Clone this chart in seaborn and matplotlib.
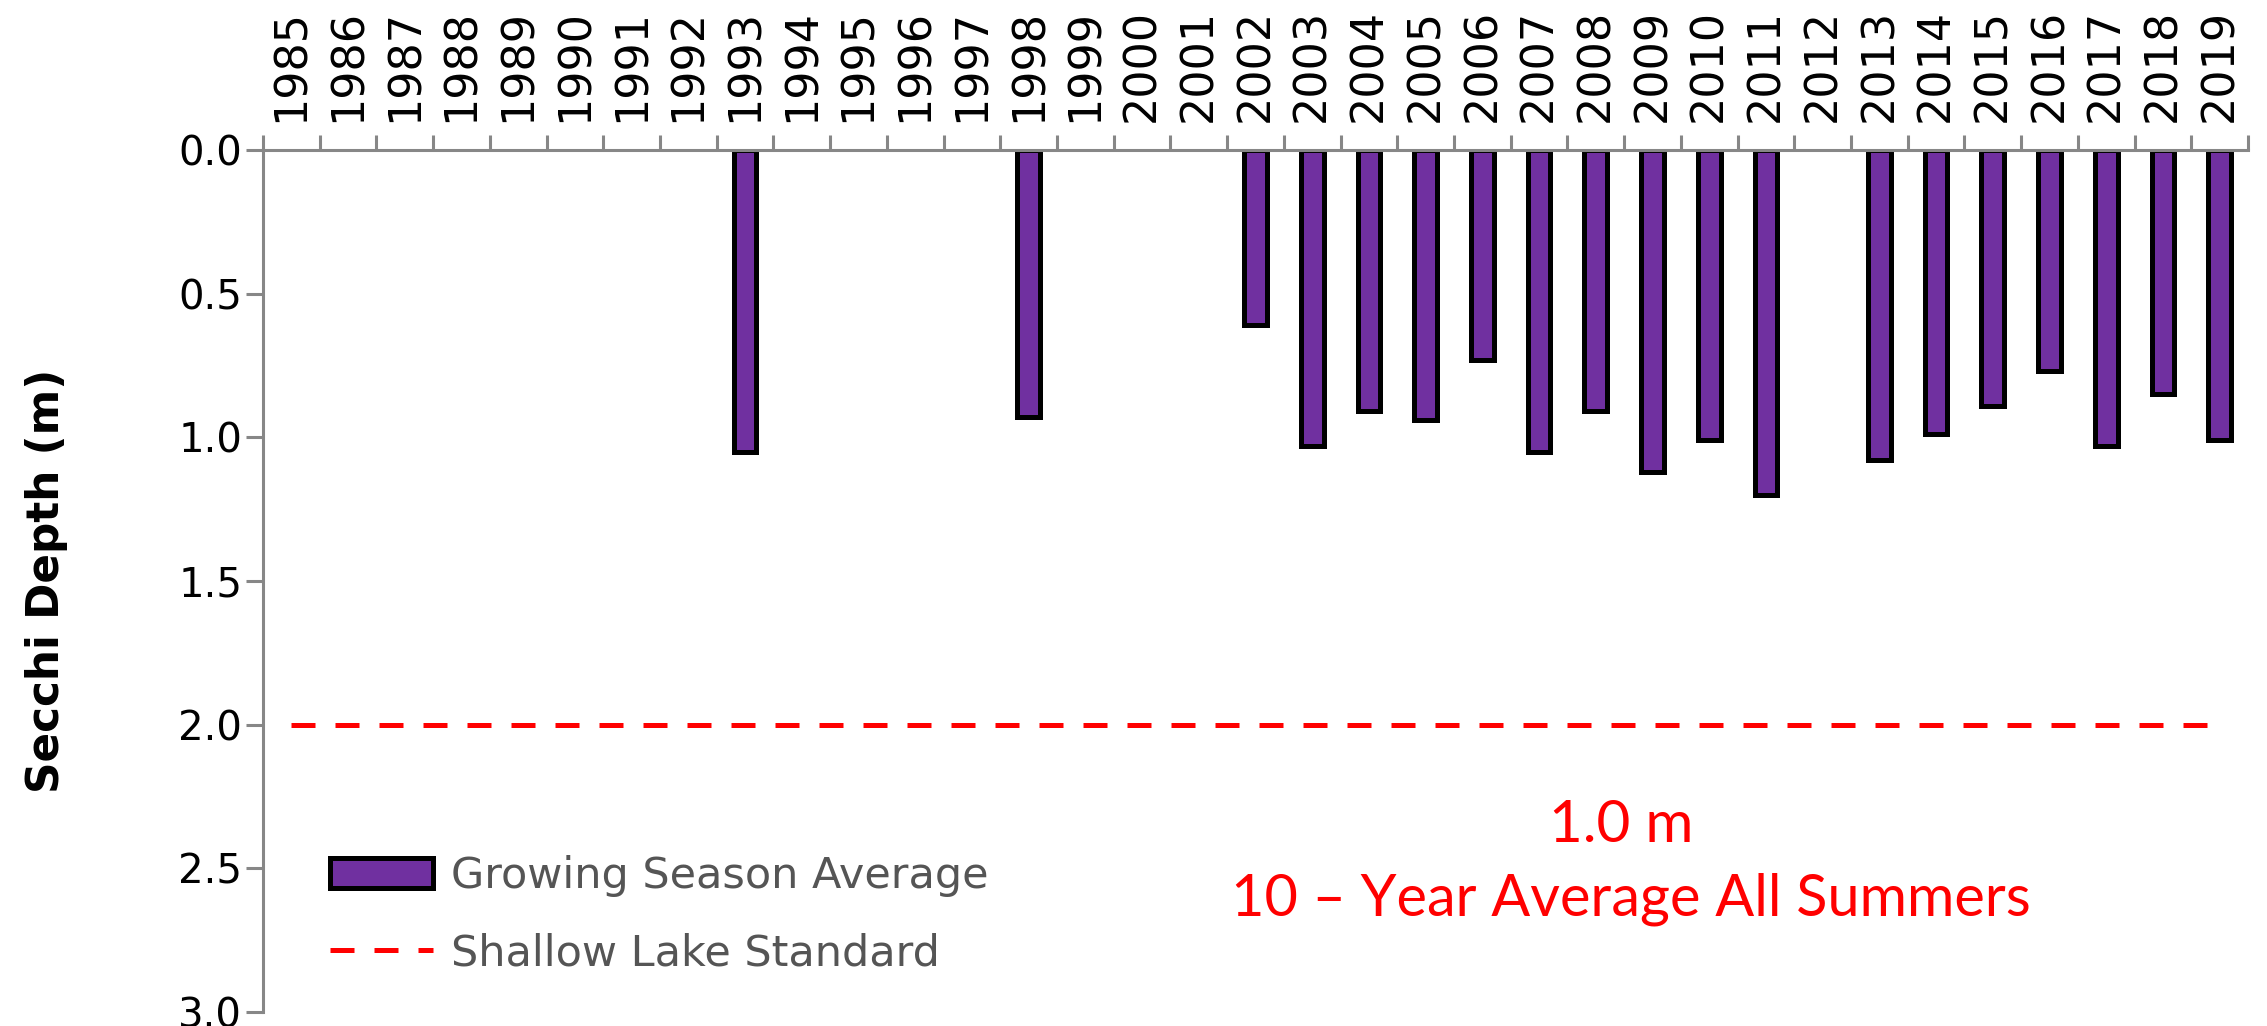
import numpy as np
import pandas as pd
import matplotlib
matplotlib.use("Agg")
import matplotlib.pyplot as plt
import seaborn as sns
from matplotlib.patches import Patch
from matplotlib.lines import Line2D
from matplotlib.ticker import FixedLocator, FormatStrFormatter

# ---- data -------------------------------------------------------------
all_years = list(range(1985, 2020))
sample_years = [1993, 1998, 2002, 2003, 2004, 2005, 2006, 2007, 2008, 2009,
                2010, 2011, 2013, 2014, 2015, 2016, 2017, 2018, 2019]
secchi_m = [1.05, 0.93, 0.61, 1.03, 0.91, 0.94, 0.73, 1.05, 0.91, 1.12,
            1.01, 1.20, 1.08, 0.99, 0.89, 0.77, 1.03, 0.85, 1.01]
standard_m = 2.0
y_ticks = [0.0, 0.5, 1.0, 1.5, 2.0, 2.5, 3.0]
series_label = "Growing Season Average"
standard_label = "Shallow Lake Standard"
note_lines = ["1.0 m", "10 \u2013 Year Average All Summers"]

year_labels = [str(y) for y in all_years]
lookup = dict(zip(sample_years, secchi_m))
df = pd.DataFrame({
    "year": year_labels,
    "depth": [lookup.get(y, np.nan) for y in all_years],
})

# ---- style ------------------------------------------------------------
sns.set_style("white")
plt.rcParams["font.family"] = ["DejaVu Sans"]

PURPLE = "#7030A0"
GRAY = "#878787"
W, H = 2267, 1026

fig = plt.figure(figsize=(W / 100, H / 100), dpi=100)
ax = fig.add_axes([263 / W, 1 - 1012 / H, (2248 - 263) / W, (1012 - 150) / H])

sns.barplot(data=df, x="year", y="depth", order=year_labels, color=PURPLE,
            saturation=1, width=0.4, edgecolor="black", linewidth=3.6,
            errorbar=None, ax=ax)

# shallow lake standard line across all years
pos = np.arange(len(all_years))
ax.plot(pos, np.full(len(pos), standard_m), color="red", lw=3.6,
        linestyle=(0, (4.8, 4.0)), zorder=3)

ax.set_xlim(-0.5, len(all_years) - 0.5)
ax.set_ylim(3.0, 0.0)
ax.set_xlabel("")
ax.set_ylabel("")

# axes: left and top spines only
for side in ["right", "bottom"]:
    ax.spines[side].set_visible(False)
for side in ["left", "top"]:
    ax.spines[side].set_color(GRAY)
    ax.spines[side].set_linewidth(2.2)

# y axis
ax.yaxis.set_major_locator(FixedLocator(y_ticks))
ax.yaxis.set_major_formatter(FormatStrFormatter("%.1f"))
ax.tick_params(axis="y", which="major", left=True, length=12, width=2.2,
               color=GRAY, pad=3, labelsize=29, labelcolor="black")

# x axis on top: labels at category centres, ticks at category boundaries
ax.xaxis.tick_top()
ax.xaxis.set_minor_locator(FixedLocator(np.arange(-0.5, len(all_years), 1.0)))
ax.tick_params(axis="x", which="major", top=True, bottom=False, length=0,
               labeltop=True, labelbottom=False, labelsize=32, pad=20,
               labelrotation=90, labelcolor="black")
ax.tick_params(axis="x", which="minor", top=True, bottom=False, length=11,
               width=2.2, color=GRAY)

# y axis title
fig.text(47 / W, 1 - 581 / H, "Secchi Depth (m)", rotation=90, ha="center",
         va="center", fontsize=31.5, fontweight="bold", color="black")

# legend
handles = [
    Patch(facecolor=PURPLE, edgecolor="black", linewidth=3.6, label=series_label),
    Line2D([], [], color="red", lw=3.6, linestyle=(0, (4.8, 4.0)), label=standard_label),
]
leg = ax.legend(handles=handles, loc="upper left", bbox_to_anchor=(0.0338, 0.182),
                frameon=False, fontsize=31, handlelength=2.4, handleheight=0.68,
                handletextpad=0.4, labelspacing=0.82, borderpad=0, borderaxespad=0)
for t in leg.get_texts():
    t.set_color("#555555")

# ten-year average note
fig.text(1621 / W, 1 - 842 / H, note_lines[0], color="red", fontsize=42,
         family=["Lato", "DejaVu Sans"], ha="center", va="baseline")
fig.text(1631 / W, 1 - 915 / H, note_lines[1], color="red", fontsize=41.5,
         family=["Lato", "DejaVu Sans"], ha="center", va="baseline")

fig.savefig("out.png", dpi=100)
